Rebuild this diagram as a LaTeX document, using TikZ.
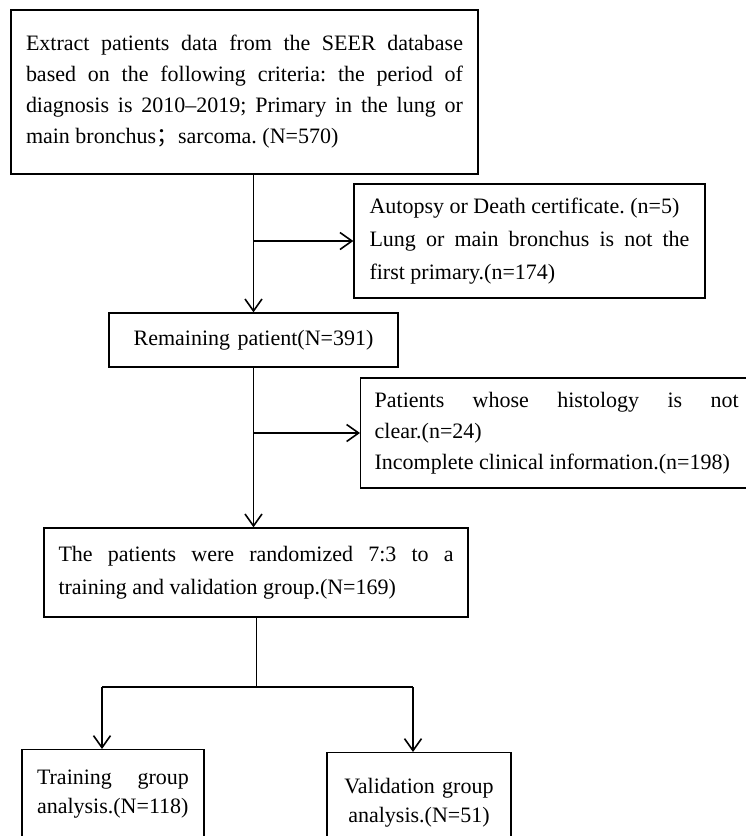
\documentclass[tikz,border=0pt]{standalone}
\usepackage{fontspec}
\setmainfont{Liberation Serif}
\newfontfamily\cjk{Noto Sans CJK SC}
\usetikzlibrary{arrows.meta, positioning, calc}
\hyphenpenalty=10000
\exhyphenpenalty=10000
\tolerance=9999
\frenchspacing

\begin{document}
\begin{tikzpicture}[x=1pt, y=-1pt,
    font=\fontsize{22}{31}\selectfont,
    hop/.style={draw, line width=1.3pt, inner xsep=15pt, inner ysep=0pt, align=justify},
    muiten/.style={line width=1.8pt, -{Straight Barb[length=12pt, width=17pt, line width=1.6pt]}}]
    \useasboundingbox (0,0) rectangle (745,836);

    % Ô đầu: tiêu chí trích dữ liệu
    \node[hop, text width=437pt, minimum height=164pt] (trich) at (244.5,92)
        {Extract patients data from the SEER database based on the following criteria: the period of diagnosis is 2010–2019; Primary in the lung or main bronchus{\cjk ；}sarcoma. (N=570)};

    % Ô còn lại và các ô loại trừ
    \node[hop, text width=259pt, minimum height=54pt, align=center] (conlai) at (253.5,340)
        {Remaining patient(N=391)};
    \node[hop, text width=320pt, inner xsep=15.5pt, minimum height=114pt,
          font=\fontsize{22}{33}\selectfont] (loai1) at (529.5,241)
        {Autopsy or Death certificate. (n=5)\\Lung or main bronchus is not the first primary.(n=174)};
    \node[hop, text width=364pt, inner xsep=14pt, minimum height=110pt, anchor=west] (loai2) at (360,433)
        {Patients whose histology is not clear.(n=24)\\Incomplete clinical information.(n=198)};

    % Ô chia ngẫu nhiên
    \node[hop, text width=395pt, inner xsep=14.5pt, minimum height=89pt,
          font=\fontsize{22}{33}\selectfont] (ngaunhien) at (256,572.5)
        {The patients were randomized 7:3 to a training and validation group.(N=169)};

    % Hai nhóm cuối
    \node[hop, text width=152pt, inner ysep=20pt, anchor=north,
          font=\fontsize{22}{29}\selectfont] (huanluyen) at (113,749)
        {Training group analysis.(N=118)};
    \node[hop, text width=154pt, inner ysep=26pt, anchor=north, align=center,
          font=\fontsize{22}{29}\selectfont] (kiemdinh) at (419,752)
        {Validation group\\analysis.(N=51)};

    % Các mũi tên
    \draw[muiten] (trich.south -| conlai) -- (conlai.north);
    \draw[muiten] (conlai |- loai1.west) -- (loai1.west);
    \draw[muiten] (conlai.south) -- (conlai.south |- ngaunhien.north);
    \draw[muiten] (conlai |- loai2.west) -- (loai2.west);

    % Nhánh chia hai nhóm
    \coordinate (retrai) at (102,687);
    \coordinate (rephai) at (413,687);
    \draw[line width=1pt] (ngaunhien.south) -- (ngaunhien.south |- retrai);
    \draw[line width=1.5pt] (retrai) -- (rephai);
    \draw[muiten] (retrai) -- (retrai |- huanluyen.north);
    \draw[muiten] (rephai) -- (rephai |- kiemdinh.north);
\end{tikzpicture}
\end{document}
